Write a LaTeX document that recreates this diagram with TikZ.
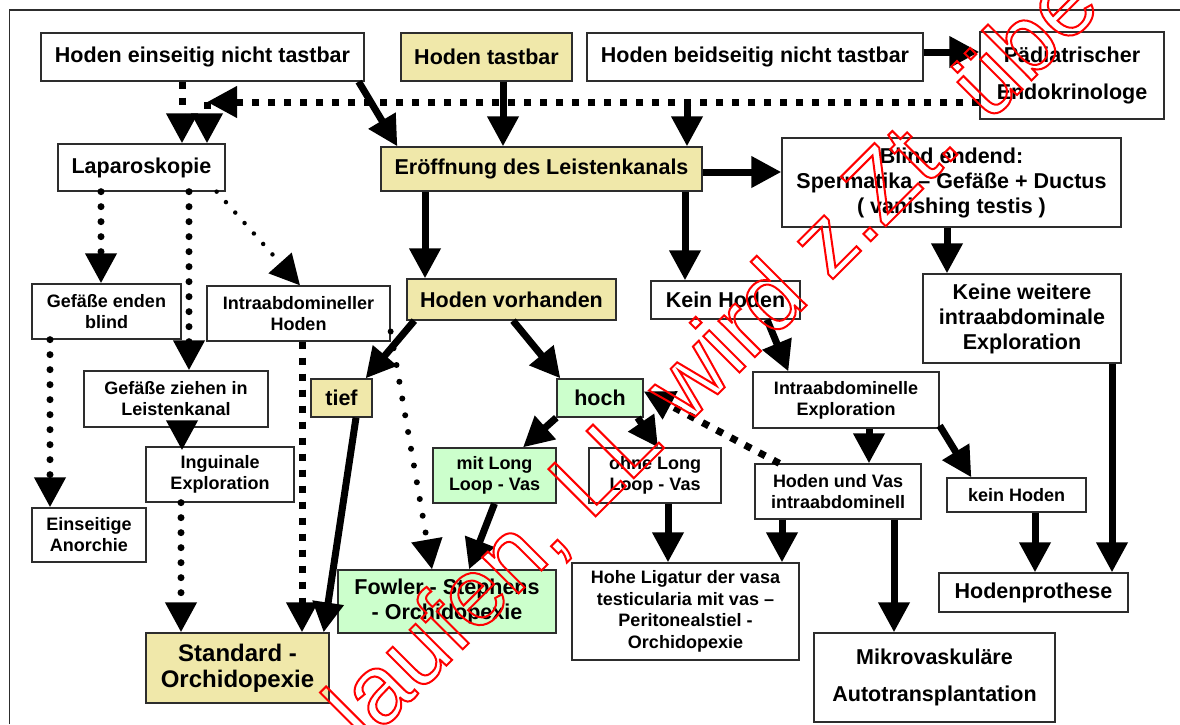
\documentclass[tikz,border=0pt]{standalone}
\usepackage{fontspec}
\setmainfont{Liberation Sans}
\usetikzlibrary{arrows.meta}
\definecolor{hodenGelb}{RGB}{240,232,170}
\definecolor{hodenGruen}{RGB}{204,255,204}
\definecolor{rahmenGrau}{RGB}{45,45,45}
\newcommand{\hohlschrift}[1]{\special{pdf:literal direct 1 0 0 RG 1 Tr 2 w}#1\special{pdf:literal direct 0 Tr}}

\begin{document}
\begin{tikzpicture}[x=1pt, y=-1pt,
		box/.style={draw=rahmenGrau, line width=1.3pt, inner sep=0pt, align=center, fill=white},
		gelb/.style={fill=hodenGelb},
		gruen/.style={fill=hodenGruen},
		gross/.style={font=\fontsize{21.5}{25}\selectfont\bfseries},
		klein/.style={font=\fontsize{18}{21}\selectfont\bfseries},
		pfeil/.style={draw, line width=7pt, -{Triangle[length=30pt, width=30pt]}},
		quadrat/.style={draw, line width=7pt, dash pattern=on 7pt off 9pt, -{Triangle[length=30pt, width=30pt]}},
		punkt/.style={draw, line width=7pt, line cap=round, dash pattern=on 0pt off 15pt, -{Triangle[length=30pt, width=30pt]}},
		feinpunkt/.style={draw, line width=4.5pt, line cap=round, dash pattern=on 0pt off 14pt, -{Triangle[length=30pt, width=30pt]}}]
		\useasboundingbox (0,0) rectangle (1180,724);
		\draw[rahmenGrau, line width=1.3pt] (9.6,724) -- (9.6,10) -- (1180,10);
		
		% Befund
		\begin{scope}[every node/.style={box, gross}]
			\node[minimum width=323, minimum height=48] (einseitig) at (202.5,57) {Hoden einseitig nicht tastbar};
			\node[gelb, minimum width=171, minimum height=48] (tastbar) at (486.5,57) {Hoden tastbar};
			\node[minimum width=336, minimum height=48] (beidseitig) at (755,57) {Hoden beidseitig nicht tastbar};
			\node[minimum width=184, minimum height=87, font=\fontsize{21.5}{37}\selectfont\bfseries] (endo) at (1072,75.5) {Pädiatrischer\\Endokrinologe};
		\end{scope}
		
		% Diagnostik
		\begin{scope}[every node/.style={box, gross}]
			\node[minimum width=167, minimum height=47] (lapa) at (141.5,167.5) {Laparoskopie};
			\node[gelb, minimum width=321, minimum height=44] (eroeff) at (541.5,169) {Eröffnung des Leistenkanals};
			\node[minimum width=339, minimum height=89] (blind) at (951.5,182.5) {Blind endend:\\Spermatika – Gefäße + Ductus\\( vanishing testis )};
			\node[gelb, minimum width=209, minimum height=41] (vorhanden) at (511.5,299.5) {Hoden vorhanden};
			\node[minimum width=149, minimum height=38] (keinhoden) at (725.5,300) {Kein Hoden};
			\node[minimum width=198, minimum height=89] (keineweitere) at (1022,318.5) {Keine weitere\\intraabdominale\\Exploration};
			\node[gelb, minimum width=61, minimum height=38] (tief) at (341.5,398) {tief};
			\node[gruen, minimum width=86, minimum height=38] (hoch) at (600,398) {hoch};
		\end{scope}
		
		% Befunde klein
		\begin{scope}[every node/.style={box, klein}]
			\node[minimum width=149, minimum height=55] (gefblind) at (106.5,311.5) {Gefäße enden\\blind};
			\node[minimum width=183, minimum height=55] (intrahoden) at (298.5,313.5) {Intraabdomineller\\Hoden};
			\node[minimum width=184, minimum height=56] (gefzieh) at (176,399) {Gefäße ziehen in\\Leistenkanal};
			\node[minimum width=186, minimum height=56] (intraexpl) at (846,400) {Intraabdominelle\\Exploration};
			\node[minimum width=148, minimum height=55] (inguinal) at (220,474.5) {Inguinale\\Exploration};
			\node[gruen, minimum width=123, minimum height=55] (mitlong) at (494.5,475.5) {mit Long\\Loop - Vas};
			\node[minimum width=132, minimum height=55] (ohnelong) at (655,475.5) {ohne Long\\Loop - Vas};
			\node[minimum width=166, minimum height=55] (hodenvas) at (838,491.5) {Hoden und Vas\\intraabdominell};
			\node[minimum width=139, minimum height=34] (keinklein) at (1016.5,495) {kein Hoden};
			\node[minimum width=114, minimum height=54] (anorchie) at (89,535) {Einseitige\\Anorchie};
			\node[minimum width=227, minimum height=97, font=\fontsize{18}{21.5}\selectfont\bfseries] (ligatur) at (685.5,611.5) {Hohe Ligatur der vasa\\testicularia mit vas –\\Peritonealstiel -\\Orchidopexie};
		\end{scope}
		
		% Therapie
		\begin{scope}[every node/.style={box, gross}]
			\node[gruen, minimum width=218, minimum height=63] (fowler) at (447,601.5) {Fowler - Stephens\\- Orchidopexie};
			\node[minimum width=189, minimum height=39] (prothese) at (1033.5,592.5) {Hodenprothese};
			\node[gelb, minimum width=183, minimum height=70, font=\fontsize{24}{26}\selectfont\bfseries] (standard) at (237.5,668) {Standard -\\Orchidopexie};
			\node[minimum width=241, minimum height=89, font=\fontsize{21.5}{37}\selectfont\bfseries] (mikro) at (934.5,677.5) {Mikrovaskuläre\\Autotransplantation};
		\end{scope}
		
		% Arrows
		\begin{scope}[every edge/.style={pfeil}]
			\path ([xshift=-6]einseitig.south east) edge ([xshift=17]eroeff.north west);
			\path ([xshift=16.5]tastbar.south) edge ([xshift=16.5]tastbar.south |- eroeff.north);
			\path ([yshift=5]beidseitig.east) edge ([yshift=5]beidseitig.east -| endo.west);
			\path ([yshift=-3]eroeff.east) edge ([yshift=-3]eroeff.east -| blind.west);
			\path ([xshift=-116.5]eroeff.south) edge ([xshift=-116.5]eroeff.south |- vorhanden.north);
			\path ([xshift=143.5]eroeff.south) edge ([xshift=143.5]eroeff.south |- keinhoden.north);
			\path ([xshift=-4.5]blind.south) edge ([xshift=-4.5]blind.south |- keineweitere.north);
			\path ([xshift=8]vorhanden.south west) edge ([xshift=-7]tief.north east);
			\path ([xshift=1.5]vorhanden.south) edge ([xshift=4]hoch.north west);
			\path (hoch.south west) edge ([xshift=28.5]mitlong.north);
			\path ([xshift=-6]hoch.south east) edge ([xshift=3]ohnelong.north);
			\path ([xshift=41.5]keinhoden.south) edge ([xshift=36]intraexpl.north west);
			\path ([xshift=23]intraexpl.south) edge ([xshift=23]intraexpl.south |- hodenvas.north);
			\path ([yshift=3]intraexpl.south east) edge ([xshift=25]keinklein.north west);
			\path ([xshift=90]keineweitere.south) edge ([xshift=90]keineweitere.south |- prothese.north);
			\path ([xshift=18.5]keinklein.south) edge ([xshift=18.5]keinklein.south |- prothese.north);
			\path ([xshift=13]ohnelong.south) edge ([xshift=13]ohnelong.south |- ligatur.north);
			\path ([xshift=-56]hodenvas.south) edge ([xshift=-56]hodenvas.south |- ligatur.north);
			\path ([xshift=56]hodenvas.south) edge ([xshift=56]hodenvas.south |- mikro.north);
			\path (mitlong.south) edge ([xshift=22]fowler.north);
			\path ([xshift=14.5]tief.south) edge ([xshift=-6]standard.north east);
			\path ([xshift=6]gefzieh.south) edge ([xshift=6, yshift=-4]gefzieh.south |- inguinal.north);
		\end{scope}
		
		% Dotted arrows
		\coordinate (knick) at (207,102);
		\coordinate (abzweig) at (687,102);
		\draw[quadrat] ([xshift=-20.5]einseitig.south) -- ([xshift=-20.5]einseitig.south |- lapa.north);
		\draw[quadrat] ([yshift=-26.5]endo.west) -- (knick);
		\draw[quadrat] (knick) -- (knick |- lapa.north);
		\draw[pfeil] (abzweig) -- (abzweig |- eroeff.north);
		\draw[punkt] ([xshift=-40.5]lapa.south) -- ([xshift=-40.5]lapa.south |- gefblind.north);
		\draw[punkt] ([xshift=47.5]lapa.south) -- ([xshift=47.5]lapa.south |- gefzieh.north);
		\draw[feinpunkt] ([xshift=-9]lapa.south east) -- ([xshift=1.5]intrahoden.north);
		\draw[punkt] ([xshift=-56.5]gefblind.south) -- ([xshift=-56.5]gefblind.south |- anorchie.north);
		\draw[punkt] ([xshift=-39]inguinal.south) -- ([xshift=-39]inguinal.south |- standard.north);
		\draw[quadrat] ([xshift=3.5]intrahoden.south) -- ([xshift=3.5]intrahoden.south |- standard.north);
		\draw[punkt, line width=6pt, dash pattern=on 0pt off 17pt] ([yshift=-18]intrahoden.east) -- ([xshift=-15]fowler.north);
		\draw[quadrat] ([xshift=25]hodenvas.north west) -- ([yshift=-13]hoch.north east);
		
		% Stempel
		\node[rotate=45, anchor=base west, inner sep=0pt, text=red, font=\fontsize{97}{97}\selectfont] (stempel) at (590,522) {\hohlschrift{\llap{laufen, }LL wird z.Zt. übe}};
	\end{tikzpicture}
\end{document}
